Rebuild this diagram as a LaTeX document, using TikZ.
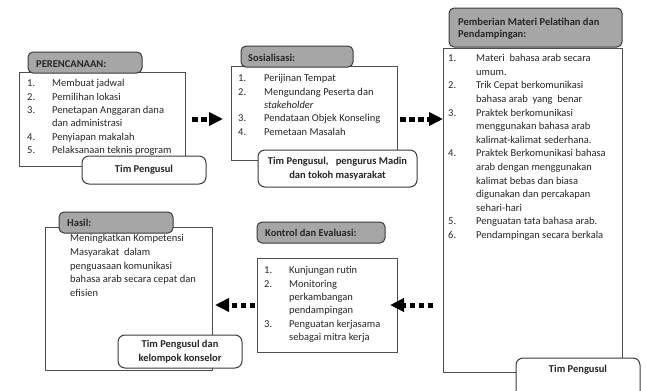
\documentclass[tikz,border=0pt]{standalone}
\usepackage{fontspec}
\setmainfont{Carlito}
\usetikzlibrary{arrows.meta}
\definecolor{boxline}{HTML}{4D4D4D}
\definecolor{headline}{HTML}{3A3A3A}
\definecolor{headfill}{HTML}{A6A6A6}
\definecolor{textc}{HTML}{262626}
\begin{document}
\begin{tikzpicture}[x=1pt,y=-1pt,
  mainbox/.style={draw=boxline, line width=0.9pt, fill=white, outer sep=0pt, inner sep=0pt, anchor=north west},
  headbox/.style={draw=headline, fill=headfill, rounded corners=5pt, line width=1pt, outer sep=0pt, inner sep=0pt, anchor=north west},
  footbox/.style={draw=headline, fill=white, rounded corners=7pt, line width=1pt, outer sep=0pt, inner sep=0pt, text=textc, font=\bfseries\fontsize{10.5}{14}\selectfont, align=center},
  headtext/.style={inner sep=0pt, anchor=base west, text=textc, font=\bfseries\fontsize{10.5}{12.5}\selectfont},
  listtext/.style={inner sep=0pt, anchor=base west, text=textc},
  flowarrow/.style={line width=5pt, line cap=butt, dash pattern=on 5.5pt off 3.5pt, -{Triangle[length=14pt,width=13pt]}, black}
]
\useasboundingbox (0,0) rectangle (646,391);

% ---------- Box 1: Perencanaan ----------
\node[mainbox, minimum width=166, minimum height=94] (b1) at (19,72) {};
\node[headbox, minimum width=114, minimum height=21] (h1) at (28,52) {};
\node[headtext] (ht1) at (36,67.4) {PERENCANAAN:};
\node[listtext, font=\fontsize{10.5}{13.4}\selectfont] (t1) at (27,86.7) {\begin{tabular}[t]{@{}p{25pt}@{}l@{}}
1. & Membuat jadwal\\
2. & Pemilihan lokasi\\
3. & Penetapan Anggaran dana\\
   & dan administrasi\\
4. & Penyiapan makalah\\
5. & Pelaksanaan teknis program
\end{tabular}};
\node[footbox, minimum width=124, minimum height=28] (f1) at (144,170) {Tim Pengusul};

% ---------- Box 2: Sosialisasi ----------
\node[mainbox, minimum width=166, minimum height=94] (b2) at (231,66) {};
\node[headbox, minimum width=112, minimum height=21] (h2) at (241,46) {};
\node[headtext] (ht2) at (248,61.4) {Sosialisasi:};
\node[listtext, font=\fontsize{10.5}{13.4}\selectfont] (t2) at (238,81.7) {\begin{tabular}[t]{@{}p{26pt}@{}l@{}}
1. & Perijinan Tempat\\
2. & Mengundang Peserta dan\\
   & \textit{stakeholder}\\
3. & Pendataan Objek Konseling\\
4. & Pemetaan Masalah
\end{tabular}};
\node[footbox, minimum width=159, minimum height=37] (f2) at (337.5,168.5) {Tim Pengusul, \ \ pengurus Madin\\dan tokoh masyarakat};

% ---------- Box 3: Pemberian Materi ----------
\node[mainbox, minimum width=179, minimum height=324] (b3) at (443,48) {};
\node[headbox, minimum width=173, minimum height=39] (h3) at (449,8) {};
\node[headtext] (ht3) at (458,25.4) {\begin{tabular}[t]{@{}l@{}}Pemberian Materi Pelatihan dan\\Pendampingan:\end{tabular}};
\node[listtext, font=\fontsize{10.5}{13.6}\selectfont] (t3) at (448,61.7) {\begin{tabular}[t]{@{}p{28pt}@{}l@{}}
1. & Materi\ \ bahasa arab secara\\
   & umum.\\
2. & Trik Cepat berkomunikasi\\
   & bahasa arab\ \ yang\ \ benar\\
3. & Praktek berkomunikasi\\
   & menggunakan bahasa arab\\
   & kalimat-kalimat sederhana.\\
4. & Praktek Berkomunikasi bahasa\\
   & arab dengan menggunakan\\
   & kalimat bebas dan biasa\\
   & digunakan dan percakapan\\
   & sehari-hari\\
5. & Penguatan tata bahasa arab.\\
6. & Pendampingan secara berkala
\end{tabular}};
\node[footbox, minimum width=124, minimum height=56, anchor=north west] (f3) at (516,358) {};
\node[headtext, anchor=center] (ft3) at (578,370) {Tim Pengusul};

% ---------- Box 4: Hasil ----------
\node[mainbox, minimum width=167, minimum height=143] (b4) at (45,227) {};
\node[headbox, minimum width=114, minimum height=21] (h4) at (59,212) {};
\node[headtext] (ht4) at (67,226.4) {Hasil:};
\node[listtext, font=\fontsize{10.5}{13.75}\selectfont] (t4) at (70,241.7) {\begin{tabular}[t]{@{}l@{}}
Meningkatkan Kompetensi\\
Masyarakat\ \ dalam\\
penguasaan komunikasi\\
bahasa arab secara cepat dan\\
efisien
\end{tabular}};
\node[footbox, minimum width=124, minimum height=33] (f4) at (180,351.5) {Tim Pengusul dan\\kelompok konselor};

% ---------- Box 5: Kontrol dan Evaluasi ----------
\node[mainbox, minimum width=140, minimum height=94] (b5) at (257,258) {};
\node[headbox, minimum width=128, minimum height=21] (h5) at (257,222) {};
\node[headtext] (ht5) at (265,236.4) {Kontrol dan Evaluasi:};
\node[listtext, font=\fontsize{10.5}{13.4}\selectfont] (t5) at (264,273.7) {\begin{tabular}[t]{@{}p{25pt}@{}l@{}}
1. & Kunjungan rutin\\
2. & Monitoring\\
   & perkambangan\\
   & pendampingan\\
3. & Penguatan kerjasama\\
   & sebagai mitra kerja
\end{tabular}};

% ---------- Arrows ----------
\draw[flowarrow, shorten <=7pt, shorten >=8pt] (b1.east) -- (b2.west |- b1.east);
\draw[flowarrow, shorten <=3pt] (b2.east |- b1.east) -- (b3.west |- b1.east);
\draw[flowarrow, shorten <=10pt, shorten >=-7pt] (b3.west |- b5.east) -- (b5.east);
\draw[flowarrow, shorten <=2pt, shorten >=3pt] (b5.west) -- (b4.east |- b5.west);
\end{tikzpicture}
\end{document}
